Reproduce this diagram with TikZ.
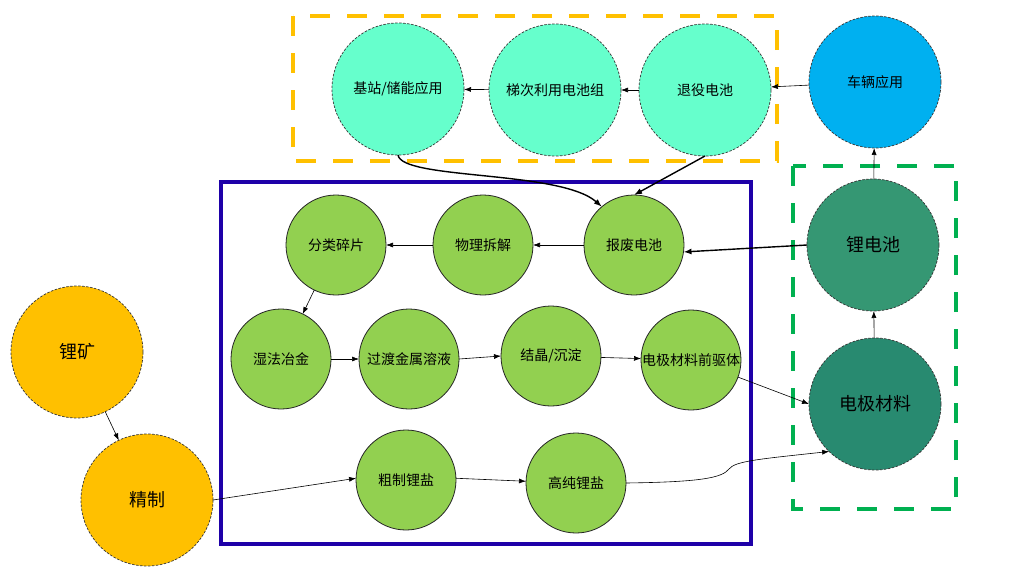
\documentclass[tikz,border=0pt]{standalone}
\usepackage{fontspec}
\setmainfont{Noto Sans CJK SC}
\usetikzlibrary{arrows.meta}
\definecolor{tealc}{RGB}{102,255,204}
\definecolor{bluec}{RGB}{0,176,240}
\definecolor{ldcc}{RGB}{53,151,115}
\definecolor{djcc}{RGB}{40,138,112}
\definecolor{greenc}{RGB}{146,208,80}
\definecolor{yellowc}{RGB}{255,192,0}
\definecolor{boxblue}{RGB}{30,0,168}
\definecolor{boxgreen}{RGB}{0,176,80}
\begin{document}
\begin{tikzpicture}[x=1pt,y=-1pt,
  every node/.style={inner sep=0pt, outer sep=0pt},
  dashcirc/.style={circle, draw=black!80, dash pattern=on 2.5pt off 1.5pt, line width=0.7pt, minimum size=132pt},
  topnode/.style={dashcirc, fill=tealc, font=\fontsize{14}{16}\selectfont},
  carnode/.style={dashcirc, fill=bluec, font=\fontsize{14}{16}\selectfont},
  bignode/.style={dashcirc, font=\fontsize{18}{20}\selectfont},
  orenode/.style={dashcirc, fill=yellowc, font=\fontsize{18}{20}\selectfont},
  procnode/.style={circle, draw=black!85, line width=0.8pt, fill=greenc, minimum size=100pt, font=\fontsize{14}{16}\selectfont},
  arr/.style={-{Latex[length=7pt,width=5pt]}, line width=0.6pt, draw=black},
  thickarr/.style={-{Latex[length=8pt,width=6pt]}, line width=1.4pt, draw=black},
  groupbox/.style={line width=4pt, dash pattern=on 20pt off 17pt}
]
\useasboundingbox[fill=white] (0,0) rectangle (1015,573);

% group boxes
\draw[groupbox, draw=yellowc] (293,16) rectangle (777,161);
\draw[groupbox, draw=boxgreen] (793,166) rectangle (956,509);
\draw[line width=4pt, draw=boxblue] (221,182) rectangle (751,544);

% top row
\node[topnode] (jz) at (398,89) {基站/储能应用};
\node[topnode] (tici) at (555,90) {梯次利用电池组};
\node[topnode] (ret) at (705,90) {退役电池};
\node[carnode] (car) at (875,82) {车辆应用};

% right column
\node[bignode, fill=ldcc] (ldc) at (873,245) {锂电池};
\node[bignode, fill=djcc] (djcl) at (875,404) {电极材料};

% process nodes
\node[procnode] (bf) at (634,245) {报废电池};
\node[procnode] (wl) at (483,245) {物理拆解};
\node[procnode] (fl) at (336,245) {分类碎片};
\node[procnode] (sf) at (281,359) {湿法冶金};
\node[procnode] (gd) at (409,359) {过渡金属溶液};
\node[procnode] (jj) at (551,356) {结晶/沉淀};
\node[procnode] (qq) at (691,360) {电极材料前驱体};
\node[procnode] (cz) at (406,480) {粗制锂盐};
\node[procnode] (gc) at (576,483) {高纯锂盐};

% ore nodes
\node[orenode] (lk) at (77,352) {锂矿};
\node[orenode] (jzh) at (147,500) {精制};

% connectors
\draw[arr] (car) -- (ret);
\draw[arr] (ret) -- (tici);
\draw[arr] (tici) -- (jz);
\draw[thickarr] (jz.south) .. controls (402,180) and (560,170) .. (bf.130);
\draw[thickarr] (ret.south) -- (bf.north);
\draw[thickarr] (ldc.west) -- (bf.-8);
\draw[arr] (ldc) -- (car);
\draw[arr] (djcl) -- (ldc);
\draw[arr] (qq.-20) -- (djcl.west);
\draw[arr] (gc.east) .. controls (700,482) and (722,478) .. (729,469) .. controls (735,461) and (760,459) .. (djcl.226);
\draw[arr] (bf) -- (wl);
\draw[arr] (wl) -- (fl);
\draw[arr] (fl) -- (sf);
\draw[arr] (sf) -- (gd);
\draw[arr] (gd.east) -- (jj.west);
\draw[arr] (jj) -- (qq);
\draw[arr] (lk) -- (jzh);
\draw[arr] (jzh.east) -- (cz.178);
\draw[arr] (cz.2) -- (gc.178);
\end{tikzpicture}
\end{document}
